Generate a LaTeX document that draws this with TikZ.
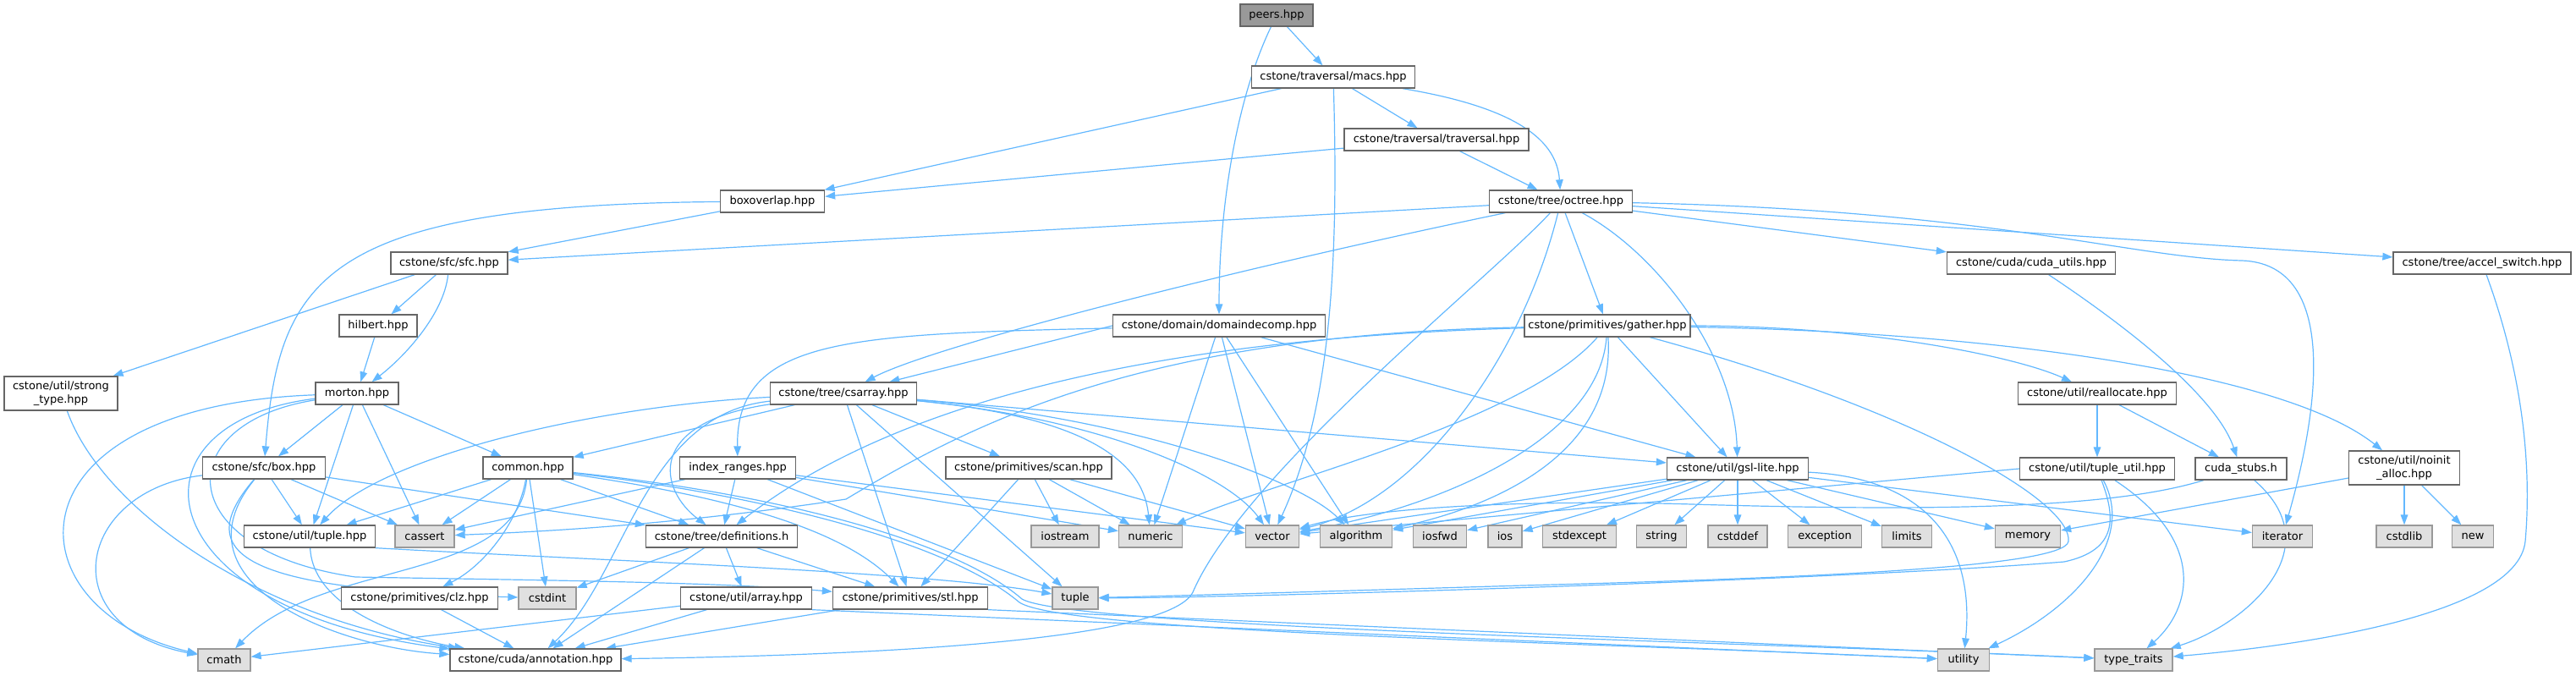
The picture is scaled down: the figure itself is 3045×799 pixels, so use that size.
\documentclass[tikz,border=0pt]{standalone}
\usepackage{fontspec}
\setmainfont{DejaVu Sans}
\usetikzlibrary{arrows.meta}
\definecolor{edgec}{HTML}{63B8FF}
\definecolor{nodeline}{HTML}{666666}
\definecolor{sysline}{HTML}{999999}
\definecolor{sysfill}{HTML}{E0E0E0}
\definecolor{rootfill}{HTML}{999999}
\pgfdeclarelayer{bg}
\pgfsetlayers{bg,main}
\tikzset{
 hdr/.style={draw=nodeline, fill=white, line width=1pt, minimum height=19.5pt, inner sep=0pt, font=\fontsize{9.75}{11.5}\selectfont},
 sys/.style={hdr, draw=sysline, fill=sysfill},
 rootn/.style={hdr, fill=rootfill},
 bw/.style={minimum width=#1*0.75pt},
 tall/.style={minimum height=30pt, align=center},
 lk/.style={draw=edgec, line width=0.9pt, -{Triangle[length=9pt,width=6.5pt]}},
}
\begin{document}
\begin{tikzpicture}[x=0.75pt,y=-0.75pt]
\useasboundingbox (0,0) rectangle (3045,799);
% ---------- nodes ----------
\node[rootn,bw=86] (peers) at (1509,18) {peers.hpp};
\node[hdr,bw=193] (macs) at (1576,91) {cstone/traversal/macs.hpp};
\node[hdr,bw=218] (trav) at (1698,165) {cstone/traversal/traversal.hpp};
\node[hdr,bw=123] (boxov) at (913,238) {boxoverlap.hpp};
\node[hdr,bw=169] (octree) at (1845,238) {cstone/tree/octree.hpp};
\node[hdr,bw=138] (sfc) at (531,311) {cstone/sfc/sfc.hpp};
\node[hdr,bw=199] (cudau) at (2401,311) {cstone/cuda/cuda\_utils.hpp};
\node[hdr,bw=210] (accel) at (2934,311) {cstone/tree/accel\_switch.hpp};
\node[hdr,bw=92] (hilbert) at (447,385) {hilbert.hpp};
\node[hdr,bw=251] (dd) at (1441,385) {cstone/domain/domaindecomp.hpp};
\node[hdr,bw=196] (gather) at (1900,385) {cstone/primitives/gather.hpp};
\node[hdr,bw=134,tall] (strong) at (72,465) {cstone/util/strong\\\_type.hpp};
\node[hdr,bw=98] (morton) at (422,465) {morton.hpp};
\node[hdr,bw=173] (csarray) at (997,465) {cstone/tree/csarray.hpp};
\node[hdr,bw=187] (realloc) at (2479,465) {cstone/util/reallocate.hpp};
\node[hdr,bw=145] (sfcbox) at (312,553) {cstone/sfc/box.hpp};
\node[hdr,bw=106] (common) at (624,553) {common.hpp};
\node[hdr,bw=137] (idxr) at (872,553) {index\_ranges.hpp};
\node[hdr,bw=196] (scan) at (1216,553) {cstone/primitives/scan.hpp};
\node[hdr,bw=167] (gsl) at (2054,554) {cstone/util/gsl-lite.hpp};
\node[hdr,bw=183] (tutil) at (2479,554) {cstone/util/tuple\_util.hpp};
\node[hdr,bw=108] (stubs) at (2649,554) {cuda\_stubs.h};
\node[hdr,bw=131,tall] (noinit) at (2842,553) {cstone/util/noinit\\\_alloc.hpp};
\node[hdr,bw=155] (tupleh) at (366,634) {cstone/util/tuple.hpp};
\node[sys,bw=70] (cassert) at (502,634) {cassert};
\node[hdr,bw=179] (defs) at (853,634) {cstone/tree/definitions.h};
\node[sys,bw=80] (iostream) at (1259,634) {iostream};
\node[sys,bw=75] (numeric) at (1360,634) {numeric};
\node[sys,bw=63] (vector) at (1504,634) {vector};
\node[sys,bw=85] (algorithm) at (1603,634) {algorithm};
\node[sys,bw=63] (iosfwd) at (1702,634) {iosfwd};
\node[sys,bw=40] (ios) at (1779,634) {ios};
\node[sys,bw=87] (stdexcept) at (1867,634) {stdexcept};
\node[sys,bw=59] (nstring) at (1964,634) {string};
\node[sys,bw=70] (cstddef) at (2054,634) {cstddef};
\node[sys,bw=87] (exception) at (2157,634) {exception};
\node[sys,bw=59] (limits) at (2254,634) {limits};
\node[sys,bw=77] (memory) at (2397,634) {memory};
\node[sys,bw=71] (iterator) at (2698,634) {iterator};
\node[sys,bw=66] (cstdlib) at (2842,634) {cstdlib};
\node[sys,bw=49] (nnew) at (2923,634) {new};
\node[hdr,bw=185] (clz) at (496,707) {cstone/primitives/clz.hpp};
\node[sys,bw=68] (cstdint) at (647,707) {cstdint};
\node[hdr,bw=155] (array) at (882,707) {cstone/util/array.hpp};
\node[hdr,bw=183] (stl) at (1076,707) {cstone/primitives/stl.hpp};
\node[sys,bw=54] (tuple) at (1271,707) {tuple};
\node[sys,bw=62] (cmath) at (265,780) {cmath};
\node[hdr,bw=202] (annot) at (633,780) {cstone/cuda/annotation.hpp};
\node[sys,bw=61] (utility) at (2321,780) {utility};
\node[sys,bw=92] (typetr) at (2522,780) {type\_traits};
% ---------- edges ----------
\begin{pgfonlayer}{bg}
% peers
\draw[lk] (peers) -- (macs);
\draw[lk] (peers) .. controls (1460,120) and (1441,250) .. (dd);
% macs
\draw[lk] (macs) -- (boxov);
\draw[lk] (macs) .. controls (1582,300) and (1575,480) .. (vector);
\draw[lk] (macs) -- (trav);
\draw[lk] (macs) .. controls (1780,125) and (1840,160) .. (octree);
% traversal
\draw[lk] (trav) -- (boxov);
\draw[lk] (trav) -- (octree);
% boxoverlap
\draw[lk] (boxov) -- (sfc);
\draw[lk] (boxov) .. controls (380,242) and (330,330) .. (sfcbox);
% octree
\draw[lk] (octree) -- (sfc);
\draw[lk] (octree) .. controls (1450,320) and (1100,410) .. (csarray);
\draw[lk] (octree) .. controls (1760,330) and (1470,560) .. (1410,700) .. controls (1380,760) and (1000,775) .. (annot);
\draw[lk] (octree) .. controls (1800,420) and (1680,590) .. (vector);
\draw[lk] (octree) -- (gather);
\draw[lk] (octree) .. controls (1960,300) and (2050,420) .. (gsl);
\draw[lk] (octree) -- (cudau);
\draw[lk] (octree) -- (accel);
\draw[lk] (octree) .. controls (2350,248) and (2520,305) .. (2650,308) .. controls (2760,312) and (2745,470) .. (iterator);
% sfc
\draw[lk] (sfc) -- (strong);
\draw[lk] (sfc) -- (hilbert);
\draw[lk] (sfc) .. controls (525,370) and (480,420) .. (morton);
% cuda utils / accel
\draw[lk] (cudau) .. controls (2520,390) and (2620,470) .. (stubs);
\draw[lk] (accel) .. controls (2985,450) and (2992,560) .. (2985,640) .. controls (2975,730) and (2700,765) .. (typetr);
% hilbert
\draw[lk] (hilbert) -- (morton);
% domaindecomp
\draw[lk] (dd.west) -- (csarray);
\draw[lk] (dd) .. controls (1000,395) and (870,400) .. (idxr);
\draw[lk] (dd) -- (numeric);
\draw[lk] (dd) -- (vector);
\draw[lk] (dd) -- (algorithm);
\draw[lk] (dd) -- (gsl);
% gather
\draw[lk] (gather) .. controls (2200,385) and (2380,420) .. (realloc);
\draw[lk] (gather) .. controls (2350,392) and (2700,440) .. (noinit);
\draw[lk] (gather) -- (gsl);
\draw[lk] (gather) .. controls (1800,500) and (1500,570) .. (numeric);
\draw[lk] (gather) .. controls (1890,520) and (1700,600) .. (vector);
\draw[lk] (gather) .. controls (1910,540) and (1760,600) .. (algorithm);
\draw[lk] (gather) .. controls (1350,395) and (1150,500) .. (1000,590) .. controls (800,620) and (650,628) .. (cassert);
\draw[lk] (gather) .. controls (1350,400) and (1050,480) .. (defs);
\draw[lk] (gather) .. controls (2250,480) and (2450,590) .. (2445,640) .. controls (2440,672) and (2100,684) .. (1800,692) .. controls (1600,698) and (1400,704) .. (tuple);
% strong type
\draw[lk] (strong) .. controls (120,600) and (300,730) .. (annot);
% morton
\draw[lk] (morton) .. controls (0,480) and (10,720) .. (cmath);
\draw[lk] (morton) .. controls (140,500) and (170,720) .. (annot);
\draw[lk] (morton) .. controls (200,500) and (200,650) .. (420,682) .. controls (650,686) and (850,688) .. (stl);
\draw[lk] (morton) -- (sfcbox);
\draw[lk] (morton) -- (tupleh);
\draw[lk] (morton) -- (cassert);
\draw[lk] (morton) -- (common);
% csarray
\draw[lk] (csarray) -- (gsl);
\draw[lk] (csarray) .. controls (1250,490) and (1350,530) .. (numeric);
\draw[lk] (csarray) .. controls (1300,495) and (1450,560) .. (vector);
\draw[lk] (csarray) .. controls (1350,495) and (1540,570) .. (algorithm);
\draw[lk] (csarray) -- (scan);
\draw[lk] (csarray) -- (tuple);
\draw[lk] (csarray) -- (common);
\draw[lk] (csarray) .. controls (700,480) and (450,540) .. (tupleh);
\draw[lk] (csarray) .. controls (760,490) and (740,680) .. (annot);
\draw[lk] (csarray) .. controls (760,500) and (780,580) .. (defs);
\draw[lk] (csarray) -- (stl);
% reallocate
\draw[lk] (realloc) -- (tutil);
\draw[lk] (realloc) -- (stubs);
% box
\draw[lk] (sfcbox) .. controls (90,580) and (60,740) .. (cmath);
\draw[lk] (sfcbox) .. controls (220,660) and (300,697) .. (cstdint);
\draw[lk] (sfcbox) .. controls (200,690) and (400,765) .. (annot);
\draw[lk] (sfcbox) -- (tupleh);
\draw[lk] (sfcbox) -- (cassert);
\draw[lk] (sfcbox) -- (defs);
% common
\draw[lk] (common) -- (tupleh);
\draw[lk] (common) -- (cassert);
\draw[lk] (common) .. controls (610,690) and (380,660) .. (cmath);
\draw[lk] (common) .. controls (612,620) and (570,670) .. (clz);
\draw[lk] (common) -- (cstdint);
\draw[lk] (common) -- (defs);
\draw[lk] (common) .. controls (880,590) and (1000,630) .. (stl);
\draw[lk] (common) .. controls (900,585) and (1120,640) .. (1205,712) .. controls (1260,748) and (1900,760) .. (utility);
\draw[lk] (common) .. controls (905,582) and (1125,636) .. (1208,708) .. controls (1265,742) and (2100,760) .. (typetr);
% index ranges
\draw[lk] (idxr) -- (cassert);
\draw[lk] (idxr) -- (defs);
\draw[lk] (idxr) -- (numeric);
\draw[lk] (idxr) -- (vector);
\draw[lk] (idxr) -- (tuple);
% scan
\draw[lk] (scan) -- (stl);
\draw[lk] (scan) -- (iostream);
\draw[lk] (scan) -- (numeric);
\draw[lk] (scan) -- (vector);
% gsl-lite
\draw[lk] (gsl) -- (vector);
\draw[lk] (gsl) -- (algorithm);
\draw[lk] (gsl) -- (iosfwd);
\draw[lk] (gsl) -- (ios);
\draw[lk] (gsl) -- (stdexcept);
\draw[lk] (gsl) -- (nstring);
\draw[lk] (gsl) -- (cstddef);
\draw[lk] (gsl) -- (exception);
\draw[lk] (gsl) -- (limits);
\draw[lk] (gsl) -- (memory);
\draw[lk] (gsl) -- (iterator);
\draw[lk] (gsl) .. controls (2275,565) and (2335,640) .. (utility);
% tuple_util
\draw[lk] (tutil.west) -- (vector);
\draw[lk] (tutil) .. controls (2500,610) and (2505,650) .. (2440,664) .. controls (2200,684) and (1500,706) .. (tuple);
\draw[lk] (tutil) .. controls (2525,640) and (2450,720) .. (utility);
\draw[lk] (tutil) .. controls (2610,640) and (2590,720) .. (typetr);
% cuda stubs
\draw[lk] (stubs) .. controls (2500,600) and (2300,605) .. (2000,596) .. controls (1800,590) and (1620,600) .. (vector);
\draw[lk] (stubs) .. controls (2760,650) and (2650,740) .. (typetr);
% noinit
\draw[lk] (noinit) -- (memory);
\draw[lk] (noinit) -- (cstdlib);
\draw[lk] (noinit) -- (nnew);
% tuple.hpp
\draw[lk] (tupleh) .. controls (370,720) and (480,755) .. (annot);
\draw[lk] (tupleh.south east) .. controls (700,662) and (1100,676) .. (tuple);
% definitions
\draw[lk] (defs) -- (cstdint);
\draw[lk] (defs) -- (annot);
\draw[lk] (defs) -- (array);
\draw[lk] (defs) -- (stl);
% clz
\draw[lk] (clz) -- (annot);
% array
\draw[lk] (array) -- (cmath);
\draw[lk] (array) -- (annot);
\draw[lk] (array.south east) -- (utility);
% stl
\draw[lk] (stl) -- (annot);
\draw[lk] (stl.south east) -- (typetr);
\end{pgfonlayer}
\end{tikzpicture}
\end{document}
